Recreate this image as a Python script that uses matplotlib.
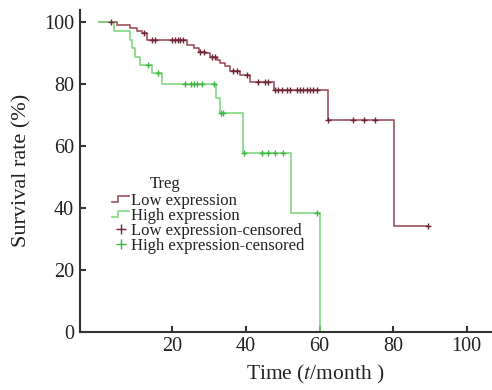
import numpy as np
import matplotlib
matplotlib.use("Agg")
import matplotlib.pyplot as plt
from matplotlib.lines import Line2D
from matplotlib.legend_handler import HandlerBase

# Kaplan-Meier step points (time in months, survival in %)
low_times = [0, 4.9, 8.6, 10.4, 11.7, 13.1, 24.0, 25.8, 27.1, 28.9, 30.3, 32.1,
             33.0, 34.4, 35.7, 38.5, 41.2, 47.5, 62.2, 80.3, 89.6]
low_surv = [100, 99.0, 97.9, 97.2, 96.4, 94.2, 92.6, 91.5, 90.4, 89.9, 88.8, 87.7,
            86.7, 85.6, 84.0, 82.9, 80.7, 78.1, 68.4, 34.3, 34.3]
low_censor = [3.3, 12.4, 14.5, 15.4, 19.9, 20.8, 21.4, 22.1, 22.9, 27.6, 28.5,
              30.8, 31.7, 36.6, 37.6, 40.3, 43.4, 45.2, 46.1, 48.0, 48.8, 49.8,
              51.1, 52.0, 53.9, 54.8, 55.6, 56.6, 57.5, 58.3, 59.3, 62.4, 69.2,
              72.1, 75.1, 89.6]

high_times = [0, 4.0, 8.4, 9.0, 9.9, 11.3, 14.5, 17.2, 31.9, 32.9, 39.3, 52.2, 60.0]
high_surv = [100, 97.2, 94.2, 91.5, 88.8, 86.1, 83.4, 80.0, 75.5, 70.6, 57.7, 38.5, 0]
high_censor = [13.5, 16.2, 23.3, 25.1, 25.9, 26.7, 28.1, 31.4, 33.2, 33.8, 39.4,
               44.3, 46.1, 47.9, 50.1, 59.3]

x_ticks = [20, 40, 60, 80, 100]
y_ticks = [0, 20, 40, 60, 80, 100]

low_line, low_mark = "#a0505f", "#6e2535"
high_line, high_mark = "#82d882", "#3fb23f"
txt = "#222222"

plt.rcParams["font.family"] = ["Liberation Serif", "DejaVu Serif"]
plt.rcParams["mathtext.fontset"] = "stix"


def surv_at(times, surv, t):
    i = np.searchsorted(times, t, side="right") - 1
    return np.asarray(surv)[i]


class StepHandler(HandlerBase):
    def create_artists(self, legend, orig_handle, xdescent, ydescent,
                       width, height, fontsize, trans):
        x0, y0 = -xdescent, -ydescent
        xs = [x0, x0 + width * 0.35, x0 + width * 0.35, x0 + width]
        ys = [y0 + height * 0.25, y0 + height * 0.25, y0 + height * 0.75, y0 + height * 0.75]
        ln = Line2D(xs, ys, color=orig_handle.get_color(), lw=1.2, transform=trans)
        return [ln]


fig = plt.figure(figsize=(4.92, 3.90), dpi=100)
ax = fig.add_axes([0.162, 0.149, 0.838, 0.826])

ax.step(low_times, low_surv, where="post", color=low_line, lw=1.2)
ax.step(high_times, high_surv, where="post", color=high_line, lw=1.2)

ax.plot(low_censor, surv_at(low_times, low_surv, low_censor), "+",
        color=low_mark, ms=5, mew=1.0)
ax.plot(high_censor, surv_at(high_times, high_surv, high_censor), "+",
        color=high_mark, ms=5, mew=1.0)

ax.set_xlim(-5.2, 106.9)
ax.set_ylim(0, 103.9)
ax.set_xticks(x_ticks)
ax.set_yticks(y_ticks)
for s in ["top", "right"]:
    ax.spines[s].set_visible(False)
for s in ["left", "bottom"]:
    ax.spines[s].set_linewidth(1.5)
    ax.spines[s].set_color("#333333")
ax.tick_params(direction="in", length=4, width=1.5, color="#333333",
               labelsize=14.5, labelcolor=txt, pad=4)

ax.set_xlabel("Time ($t$/month )", fontsize=15.5, color=txt)
ax.xaxis.set_label_coords(0.571, -0.098)
ax.set_ylabel("Survival rate (%)", fontsize=16, color=txt, labelpad=9)

h1 = Line2D([], [], color=low_line)
h2 = Line2D([], [], color=high_line)
h3 = Line2D([], [], ls="none", marker="+", color=low_mark, ms=7, mew=1.0)
h4 = Line2D([], [], ls="none", marker="+", color=high_mark, ms=7, mew=1.0)
leg = ax.legend([h1, h2, h3, h4],
                ["Low expression", "High expression",
                 "Low expression-censored", "High expression-censored"],
                handler_map={h1: StepHandler(), h2: StepHandler()},
                loc="upper left", bbox_to_anchor=(0.079, 0.432), frameon=False,
                fontsize=12, handlelength=1.0, handletextpad=0.15,
                labelspacing=-0.05, borderpad=0, borderaxespad=0)
for t in leg.get_texts():
    t.set_color(txt)
ax.text(0.207, 0.458, "Treg", transform=ax.transAxes, fontsize=12,
        color=txt, ha="center", va="center")

fig.savefig("out.png", dpi=100)
